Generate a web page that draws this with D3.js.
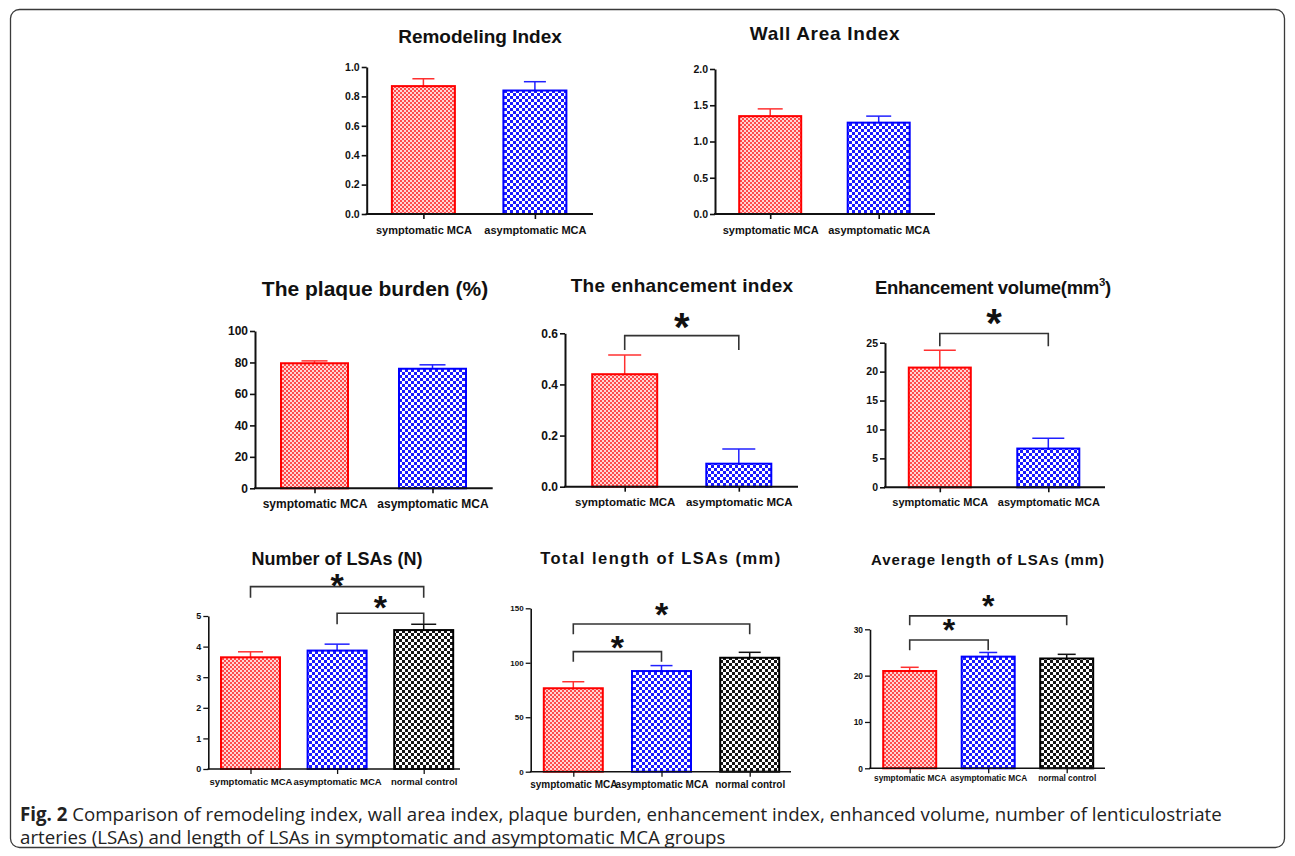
<!DOCTYPE html>
<html><head><meta charset="utf-8">
<script src="https://cdn.jsdelivr.net/npm/d3@7"></script>
<style>body{margin:0;background:#fff} svg{display:block}</style>
</head><body>
<svg id="c" width="1295" height="856"></svg>
<script>
// ---------- DATA ----------
const groups2 = ["symptomatic MCA", "asymptomatic MCA"];
const groups3 = ["symptomatic MCA", "asymptomatic MCA", "normal control"];

const remodelingMean = [0.87, 0.84];
const remodelingErr = [0.05, 0.06];
const remodelingTicks = [0, 0.2, 0.4, 0.6, 0.8, 1.0];
const remodelingTickLabels = ["0.0", "0.2", "0.4", "0.6", "0.8", "1.0"];

const wallAreaMean = [1.35, 1.26];
const wallAreaErr = [0.10, 0.09];
const wallAreaTicks = [0, 0.5, 1.0, 1.5, 2.0];
const wallAreaTickLabels = ["0.0", "0.5", "1.0", "1.5", "2.0"];

const plaqueMean = [79.5, 76.0];
const plaqueErr = [1.5, 2.5];
const plaqueTicks = [0, 20, 40, 60, 80, 100];
const plaqueTickLabels = ["0", "20", "40", "60", "80", "100"];

const enhIndexMean = [0.44, 0.09];
const enhIndexErr = [0.075, 0.057];
const enhIndexTicks = [0, 0.2, 0.4, 0.6];
const enhIndexTickLabels = ["0.0", "0.2", "0.4", "0.6"];

const enhVolMean = [20.7, 6.7];
const enhVolErr = [3.0, 1.8];
const enhVolTicks = [0, 5, 10, 15, 20, 25];
const enhVolTickLabels = ["0", "5", "10", "15", "20", "25"];

const lsaNumMean = [3.65, 3.87, 4.54];
const lsaNumErr = [0.18, 0.21, 0.19];
const lsaNumTicks = [0, 1, 2, 3, 4, 5];
const lsaNumTickLabels = ["0", "1", "2", "3", "4", "5"];

const totalLenMean = [76.6, 92.4, 104.6];
const totalLenErr = [6.0, 5.0, 5.0];
const totalLenTicks = [0, 50, 100, 150];
const totalLenTickLabels = ["0", "50", "100", "150"];

const avgLenMean = [21.0, 24.1, 23.7];
const avgLenErr = [0.8, 0.9, 0.9];
const avgLenTicks = [0, 10, 20, 30];
const avgLenTickLabels = ["0", "10", "20", "30"];

// significance brackets: [groupA, groupB, bracket level, leg end A, leg end B] in data units
const enhIndexSig = [[0, 1, 0.591, 0.535, 0.535]];
const enhVolSig = [[0, 1, 26.6, 24.4, 24.4]];
const lsaNumSig = [[0, 2, 5.96, 5.6, 5.6], [1, 2, 5.09, 4.73, 4.73]];
const totalLenSig = [[0, 2, 135.6, 126.1, 126.1], [0, 1, 110.2, 101, 101]];
const avgLenSig = [[0, 2, 32.9, 30.9, 30.9], [0, 1, 27.7, 25.5, 25.5]];

const captionBold = "Fig. 2";
const captionLine1 = " Comparison of remodeling index, wall area index, plaque burden, enhancement index, enhanced volume, number of lenticulostriate";
const captionLine2 = "arteries (LSAs) and length of LSAs in symptomatic and asymptomatic MCA groups";

// ---------- STYLE / LAYOUT ----------
const FONT = "Arial, 'Liberation Sans', Helvetica, sans-serif";
const strokes = ["#ff0000", "#0000ff", "#000000"];
const errCol = ["#ff3030", "#2020ff", "#111111"];
const fills = ["url(#pRed)", "url(#pBlue)", "url(#pBlack)"];

const panels = [
  {title: "Remodeling Index", ts: 19, tls: 0, tx: 480, ty: 43, groups: groups2, mean: remodelingMean, err: remodelingErr,
   ticks: remodelingTicks, tl: remodelingTickLabels, ax: 366.7, axEnd: 593, yTop: 67, y0: 214, c: [423.4, 534.9], bw: 63, cap: 22,
   tf: 10.5, lf: 11, ldy: 16.5, aw: 2, sig: []},
  {title: "Wall Area Index", ts: 19, tls: 0.7, tx: 825, ty: 40, groups: groups2, mean: wallAreaMean, err: wallAreaErr,
   ticks: wallAreaTicks, tl: wallAreaTickLabels, ax: 715, axEnd: 935, yTop: 69, y0: 214, c: [770.2, 878.7], bw: 62, cap: 25,
   tf: 10.5, lf: 11, ldy: 16.5, aw: 2, sig: []},
  {title: "The plaque burden (%)", ts: 21, tls: 0, tx: 375, ty: 296, groups: groups2, mean: plaqueMean, err: plaqueErr,
   ticks: plaqueTicks, tl: plaqueTickLabels, ax: 255, axEnd: 492.7, yTop: 331, y0: 488.3, c: [314.5, 432.5], bw: 67, cap: 26,
   tf: 12, lf: 12, ldy: 15, aw: 2, sig: []},
  {title: "The enhancement index", ts: 19, tls: 0.3, tx: 682, ty: 291.5, groups: groups2, mean: enhIndexMean, err: enhIndexErr,
   ticks: enhIndexTicks, tl: enhIndexTickLabels, ax: 565, axEnd: 798, yTop: 333.3, y0: 486.7, c: [624.7, 738.8], bw: 65, cap: 33,
   tf: 12, lf: 11.5, ldy: 15.5, aw: 2, sig: enhIndexSig, starSize: 40, starGap: [17]},
  {title: "Enhancement volume(mm", sup: "3", ts: 18.5, tls: -0.3, tx: 993, ty: 293.5, groups: groups2, mean: enhVolMean, err: enhVolErr,
   ticks: enhVolTicks, tl: enhVolTickLabels, ax: 885, axEnd: 1105, yTop: 342.7, y0: 487.3, c: [939.8, 1048.3], bw: 62, cap: 32,
   tf: 10.5, lf: 11, ldy: 15, aw: 2, sig: enhVolSig, starSize: 40, starGap: [19]},
  {title: "Number of LSAs (N)", ts: 18, tls: 0, tx: 337, ty: 565, groups: groups3, mean: lsaNumMean, err: lsaNumErr,
   ticks: lsaNumTicks, tl: lsaNumTickLabels, ax: 208.3, axEnd: 460, yTop: 616, y0: 769, c: [250.5, 337.2, 423.7], bw: 59, cap: 25,
   tf: 9, lf: 9.5, ldy: 13, aw: 1.6, sig: lsaNumSig, starSize: 34, starGap: [9, 13]},
  {title: "Total length of LSAs (mm)", ts: 16.5, tls: 1.5, tx: 661, ty: 563.5, groups: groups3, mean: totalLenMean, err: totalLenErr,
   ticks: totalLenTicks, tl: totalLenTickLabels, ax: 530.7, axEnd: 791, yTop: 608.3, y0: 771.7, c: [573.3, 661.7, 749.7], bw: 59, cap: 22,
   tf: 8, lf: 10, ldy: 13, aw: 1.6, sig: totalLenSig, starSize: 34, starGap: [17, 12]},
  {title: "Average length of LSAs (mm)", ts: 15, tls: 0.9, tx: 988, ty: 565, groups: groups3, mean: avgLenMean, err: avgLenErr,
   ticks: avgLenTicks, tl: avgLenTickLabels, ax: 870, axEnd: 1105, yTop: 629.3, y0: 768.3, c: [909.7, 986.3, 1066.7], bw: 53, cap: 18,
   tf: 8.4, lf: 8.3, ldy: 10.5, aw: 1.6, sig: avgLenSig, starSize: 32, starGap: [17, 17]}
];

const svg = d3.select("#c");
svg.append("rect").attr("width", 1295).attr("height", 856).attr("fill", "#fff");

// patterns
const defs = svg.append("defs");
function checker(id, size, bg, fg) {
  const p = defs.append("pattern").attr("id", id).attr("patternUnits", "userSpaceOnUse")
    .attr("width", size * 2).attr("height", size * 2);
  p.append("rect").attr("width", size * 2).attr("height", size * 2).attr("fill", bg);
  p.append("rect").attr("width", size).attr("height", size).attr("fill", fg);
  p.append("rect").attr("x", size).attr("y", size).attr("width", size).attr("height", size).attr("fill", fg);
}
checker("pRed", 2, "#ffd4d4", "#ff4a4a");
checker("pBlue", 3, "#ffffff", "#1a1aff");
checker("pBlack", 3, "#ffffff", "#151515");

// outer frame
svg.append("rect").attr("x", 10.5).attr("y", 9.5).attr("width", 1274).attr("height", 838)
  .attr("rx", 9).attr("fill", "none").attr("stroke", "#3a3a3a").attr("stroke-width", 1.3);

panels.forEach(p => {
  const g = svg.append("g");
  const y = d3.scaleLinear().domain([0, d3.max(p.ticks)]).range([p.y0, p.yTop]);
  const x = d3.scalePoint().domain(p.groups).range([p.c[0], p.c[p.c.length - 1]]);

  // title
  const t = g.append("text").attr("x", p.tx).attr("y", p.ty).attr("text-anchor", "middle")
    .attr("font-family", FONT).attr("font-weight", "bold").attr("font-size", p.ts)
    .attr("letter-spacing", p.tls).attr("fill", "#111").text(p.title);
  if (p.sup) {
    t.append("tspan").attr("font-size", p.ts * 0.62).attr("dy", -p.ts * 0.42).text(p.sup);
    t.append("tspan").attr("dy", p.ts * 0.42).text(")");
  }

  const data = p.groups.map((k, i) => ({k, i, m: p.mean[i], e: p.err[i]}));

  // error bars (upper only)
  const eb = g.selectAll(".eb").data(data).enter().append("g");
  eb.append("line").attr("x1", d => x(d.k)).attr("x2", d => x(d.k))
    .attr("y1", d => y(d.m)).attr("y2", d => y(d.m + d.e))
    .attr("stroke", d => errCol[d.i]).attr("stroke-width", 1.5);
  eb.append("line").attr("x1", d => x(d.k) - p.cap / 2).attr("x2", d => x(d.k) + p.cap / 2)
    .attr("y1", d => y(d.m + d.e)).attr("y2", d => y(d.m + d.e))
    .attr("stroke", d => errCol[d.i]).attr("stroke-width", 1.5);

  // bars
  g.selectAll(".bar").data(data).enter().append("rect")
    .attr("x", d => x(d.k) - p.bw / 2).attr("width", p.bw)
    .attr("y", d => y(d.m)).attr("height", d => p.y0 - y(d.m))
    .attr("fill", d => fills[d.i]).attr("stroke", d => strokes[d.i]).attr("stroke-width", 2);

  // y axis
  const ya = g.append("g").attr("transform", `translate(${p.ax},0)`)
    .call(d3.axisLeft(y).tickValues(p.ticks).tickFormat((d, i) => p.tl[i]).tickSize(5).tickSizeOuter(0).tickPadding(2));
  ya.select(".domain").attr("stroke", "#111").attr("stroke-width", p.aw);
  ya.selectAll(".tick line").attr("stroke", "#111").attr("stroke-width", p.aw * 0.8);
  ya.selectAll(".tick text").attr("font-family", FONT).attr("font-weight", "bold").attr("font-size", p.tf).attr("fill", "#111");

  // x axis
  g.append("line").attr("x1", p.ax - p.aw / 2).attr("x2", p.axEnd).attr("y1", p.y0).attr("y2", p.y0)
    .attr("stroke", "#111").attr("stroke-width", p.aw);
  const xa = g.append("g").attr("transform", `translate(0,${p.y0})`)
    .call(d3.axisBottom(x).tickSize(5).tickSizeOuter(0).tickPadding(p.ldy - 9));
  xa.select(".domain").remove();
  xa.selectAll(".tick line").attr("stroke", "#111").attr("stroke-width", p.aw * 0.8);
  xa.selectAll(".tick text").attr("font-family", FONT).attr("font-weight", "bold").attr("font-size", p.lf).attr("fill", "#111");

  // significance
  p.sig.forEach((s, si) => {
    const [a, b, lev, la, lb] = s;
    const xa_ = x(p.groups[a]), xb_ = x(p.groups[b]);
    g.append("path").attr("d", `M${xa_},${y(la)}V${y(lev)}H${xb_}V${y(lb)}`)
      .attr("fill", "none").attr("stroke", "#333").attr("stroke-width", 1.6);
    g.append("text").attr("x", (xa_ + xb_) / 2).attr("y", y(lev) - p.starGap[si] + p.starSize * 0.56)
      .attr("text-anchor", "middle").attr("font-family", FONT).attr("font-weight", "bold")
      .attr("font-size", p.starSize).attr("fill", "#111").text("*");
  });
});

// caption
const cap = svg.append("g").attr("font-family", "'Open Sans', 'Noto Sans', sans-serif").attr("font-size", 18.7).attr("fill", "#222");
const l1 = cap.append("text").attr("x", 20).attr("y", 821);
l1.append("tspan").attr("font-weight", "bold").text(captionBold);
l1.append("tspan").text(captionLine1);
cap.append("text").attr("x", 20).attr("y", 844).text(captionLine2);
</script>
</body></html>
